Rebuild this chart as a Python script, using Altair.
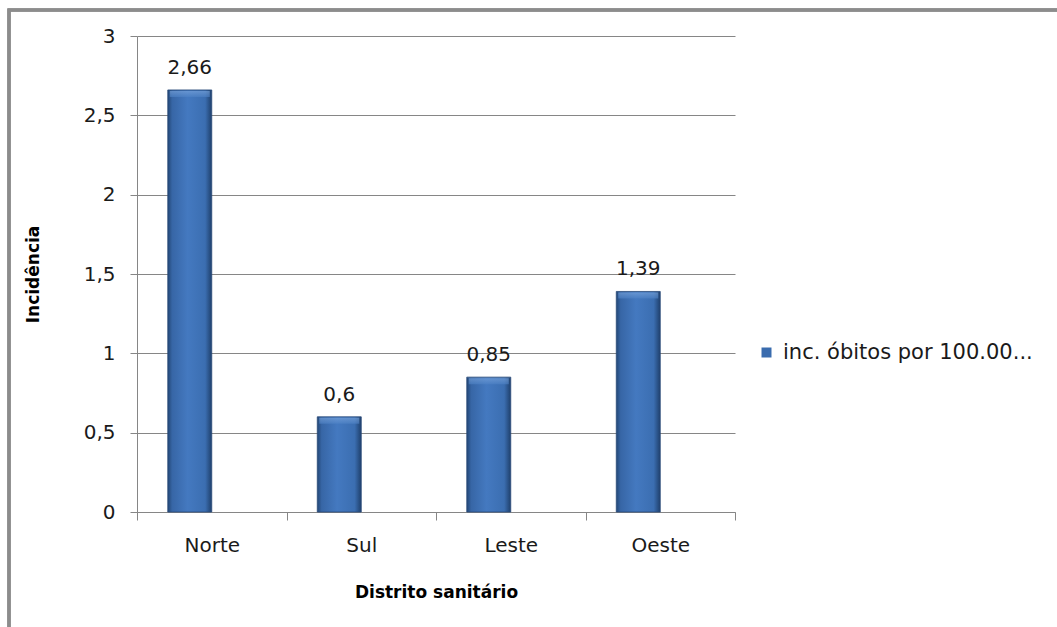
import altair as alt
import pandas as pd

categories = ["Norte", "Sul", "Leste", "Oeste"]
values = [2.66, 0.6, 0.85, 1.39]
value_labels = ["2,66", "0,6", "0,85", "1,39"]
series_name = "inc. óbitos por 100.00..."
y_ticks = [0, 0.5, 1, 1.5, 2, 2.5, 3]

df = pd.DataFrame({
    "distrito": categories,
    "valor": values,
    "rotulo": value_labels,
    "serie": [series_name] * len(categories),
})

FONT = "DejaVu Sans"
GRID = "#868686"
TXT = "#1a1a1a"

bar_fill = alt.Gradient(
    gradient="linear",
    stops=[
        alt.GradientStop(color="#234776", offset=0),
        alt.GradientStop(color="#3766a6", offset=0.1),
        alt.GradientStop(color="#4479c0", offset=0.45),
        alt.GradientStop(color="#3b6eb1", offset=0.85),
        alt.GradientStop(color="#1f406c", offset=1),
    ],
    x1=0, x2=1, y1=0, y2=0,
)

bevel_fill = alt.Gradient(
    gradient="linear",
    stops=[
        alt.GradientStop(color="#7ea8de", offset=0),
        alt.GradientStop(color="#4f83c6", offset=1),
    ],
    x1=0, x2=0, y1=0, y2=1,
)

x_enc = alt.X(
    "distrito:N",
    sort=categories,
    scale=alt.Scale(paddingInner=0, paddingOuter=0),
    axis=alt.Axis(
        title="Distrito sanitário",
        labelAngle=0,
        tickBand="extent",
        tickSize=8,
        tickColor=GRID,
        domainColor=GRID,
        labelFont=FONT,
        labelFontSize=20,
        labelColor=TXT,
        labelPadding=15,
        titleFont=FONT,
        titleFontSize=17,
        titleFontWeight="bold",
        titleColor="#000000",
        titleY=80,
        titleBaseline="middle",
        grid=False,
    ),
)
xoff = alt.XOffset(
    "serie:N",
    scale=alt.Scale(domain=[series_name, "_vazio"], paddingInner=0, paddingOuter=0.7),
)
y_enc = alt.Y(
    "valor:Q",
    scale=alt.Scale(domain=[0, 3], nice=False),
    axis=alt.Axis(
        values=y_ticks,
        labelExpr="replace(format(datum.value, '~g'), '.', ',')",
        title="Incidência",
        grid=True,
        gridColor=GRID,
        tickColor=GRID,
        domainColor=GRID,
        tickSize=7,
        labelFont=FONT,
        labelFontSize=20,
        labelColor=TXT,
        labelPadding=15,
        titleFont=FONT,
        titleFontSize=17,
        titleFontWeight="bold",
        titleColor="#000000",
        titleX=-104,
        titleY=238,
        titleAngle=270,
        titleAlign="center",
        titleBaseline="middle",
    ),
)

base = alt.Chart(df)

border = base.mark_rect(filled=False, stroke="#8c8c8c", strokeWidth=3).encode(
    x=alt.value(-128), x2=alt.value(960), y=alt.value(-26), y2=alt.value(640)
)

bars = base.mark_bar(fill=bar_fill, stroke="#2a4a78", strokeWidth=0.8).encode(
    x=x_enc, xOffset=xoff, y=y_enc
)

bevel = base.mark_tick(fill=bevel_fill, thickness=6, size=40, yOffset=4, opacity=0.6).encode(
    x=x_enc, xOffset=xoff, y=y_enc
)

legend_layer = base.mark_square(opacity=0, size=100).encode(
    x=x_enc, xOffset=xoff, y=y_enc,
    color=alt.Color(
        "serie:N",
        scale=alt.Scale(domain=[series_name], range=["#3a6cae"]),
        legend=alt.Legend(
            title=None,
            orient="none",
            legendX=619,
            legendY=306,
            symbolType="square",
            symbolSize=100,
            symbolOpacity=1,
            symbolStrokeWidth=0,
            labelFont=FONT,
            labelFontSize=21,
            labelColor=TXT,
            labelLimit=0,
            labelOffset=6,
            padding=0,
        ),
    ),
)

text = base.mark_text(dy=-22, font=FONT, fontSize=20, color=TXT).encode(
    x=x_enc, xOffset=xoff, y=y_enc, text="rotulo:N"
)

chart = (
    alt.layer(border, bars, bevel, legend_layer, text)
    .properties(
        width=598,
        height=476,
        autosize=alt.AutoSizeParams(type="none"),
        padding={"left": 137, "top": 36, "right": 322, "bottom": 115},
        background="white",
    )
    .configure_view(strokeWidth=0)
)

chart.save("out.html", embed_options={"renderer": "svg", "actions": False})
